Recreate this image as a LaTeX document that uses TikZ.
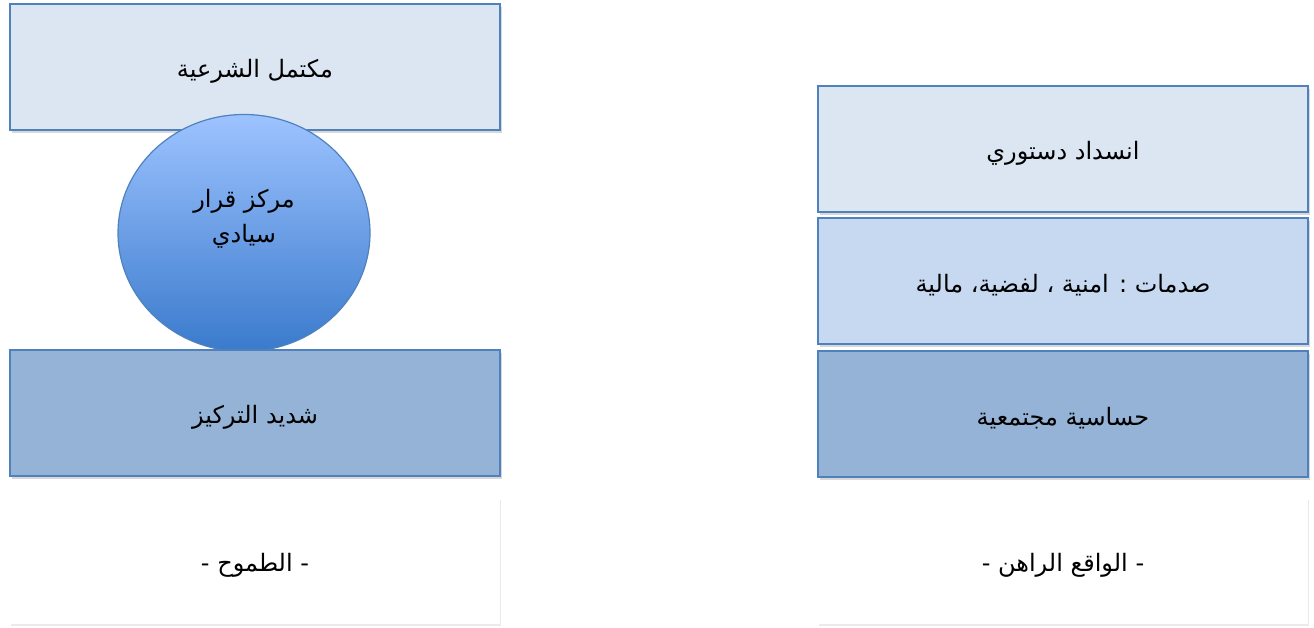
\documentclass[tikz,border=0pt]{standalone}
\usepackage{fontspec}
\newfontfamily\arabicfont[Script=Arabic]{DejaVu Sans}
\TeXXeTstate=1
\usetikzlibrary{shadows,shapes.geometric}
\definecolor{bordblue}{RGB}{79,129,189}
\definecolor{fillA}{RGB}{220,230,242}
\definecolor{fillB}{RGB}{198,217,240}
\definecolor{fillC}{RGB}{149,179,215}
\definecolor{circTop}{RGB}{157,195,255}
\definecolor{circBot}{RGB}{58,122,204}
\newcommand\artext[1]{\raisebox{-4pt}[\height][\depth]{\beginR #1\endR}}
\tikzset{
  boxbase/.style={rectangle, minimum width=490pt, inner sep=0pt, font=\arabicfont\fontsize{24}{28}\selectfont},
  bluebox/.style={boxbase, draw=bordblue, line width=1.2pt, minimum height=126pt,
    drop shadow={opacity=0.3, shadow xshift=1.5pt, shadow yshift=-3pt}},
  whitebox/.style={boxbase, fill=white, minimum height=126pt,
    drop shadow={opacity=0.16, shadow xshift=1pt, shadow yshift=-2pt}},
  circlenode/.style={ellipse, draw=bordblue, line width=1.2pt, minimum width=252pt, minimum height=237pt,
    top color=circTop, bottom color=circBot, inner sep=0pt},
  txt/.style={font=\arabicfont\fontsize{24}{35}\selectfont, align=center, inner sep=0pt}
}
\begin{document}
\begin{tikzpicture}[x=1pt,y=-1pt]
\useasboundingbox (0,0) rectangle (1314,628);
\fill[white] (0,0) rectangle (1314,628);
% left column
\node[bluebox, fill=fillA] (legit) at (255,67) {\artext{مكتمل الشرعية}};
\node[circlenode] (center) at (244,233) {};
\node[txt] (centertxt) at (244,219) {\beginR مركز قرار\endR\\\beginR سيادي\endR};
\node[bluebox, fill=fillC] (focus) at (255,413) {\artext{شديد التركيز}};
\node[whitebox] (ambition) at (255,561) {\artext{- الطموح -}};
% right column
\node[bluebox, fill=fillA] (block) at (1063,149) {\artext{انسداد دستوري}};
\node[bluebox, fill=fillB] (shocks) at (1063,281) {\artext{صدمات : امنية ، لفضية، مالية}};
\node[bluebox, fill=fillC] (sens) at (1063,414) {\artext{حساسية مجتمعية}};
\node[whitebox] (reality) at (1063,561) {\artext{- الواقع الراهن -}};
\end{tikzpicture}
\end{document}
